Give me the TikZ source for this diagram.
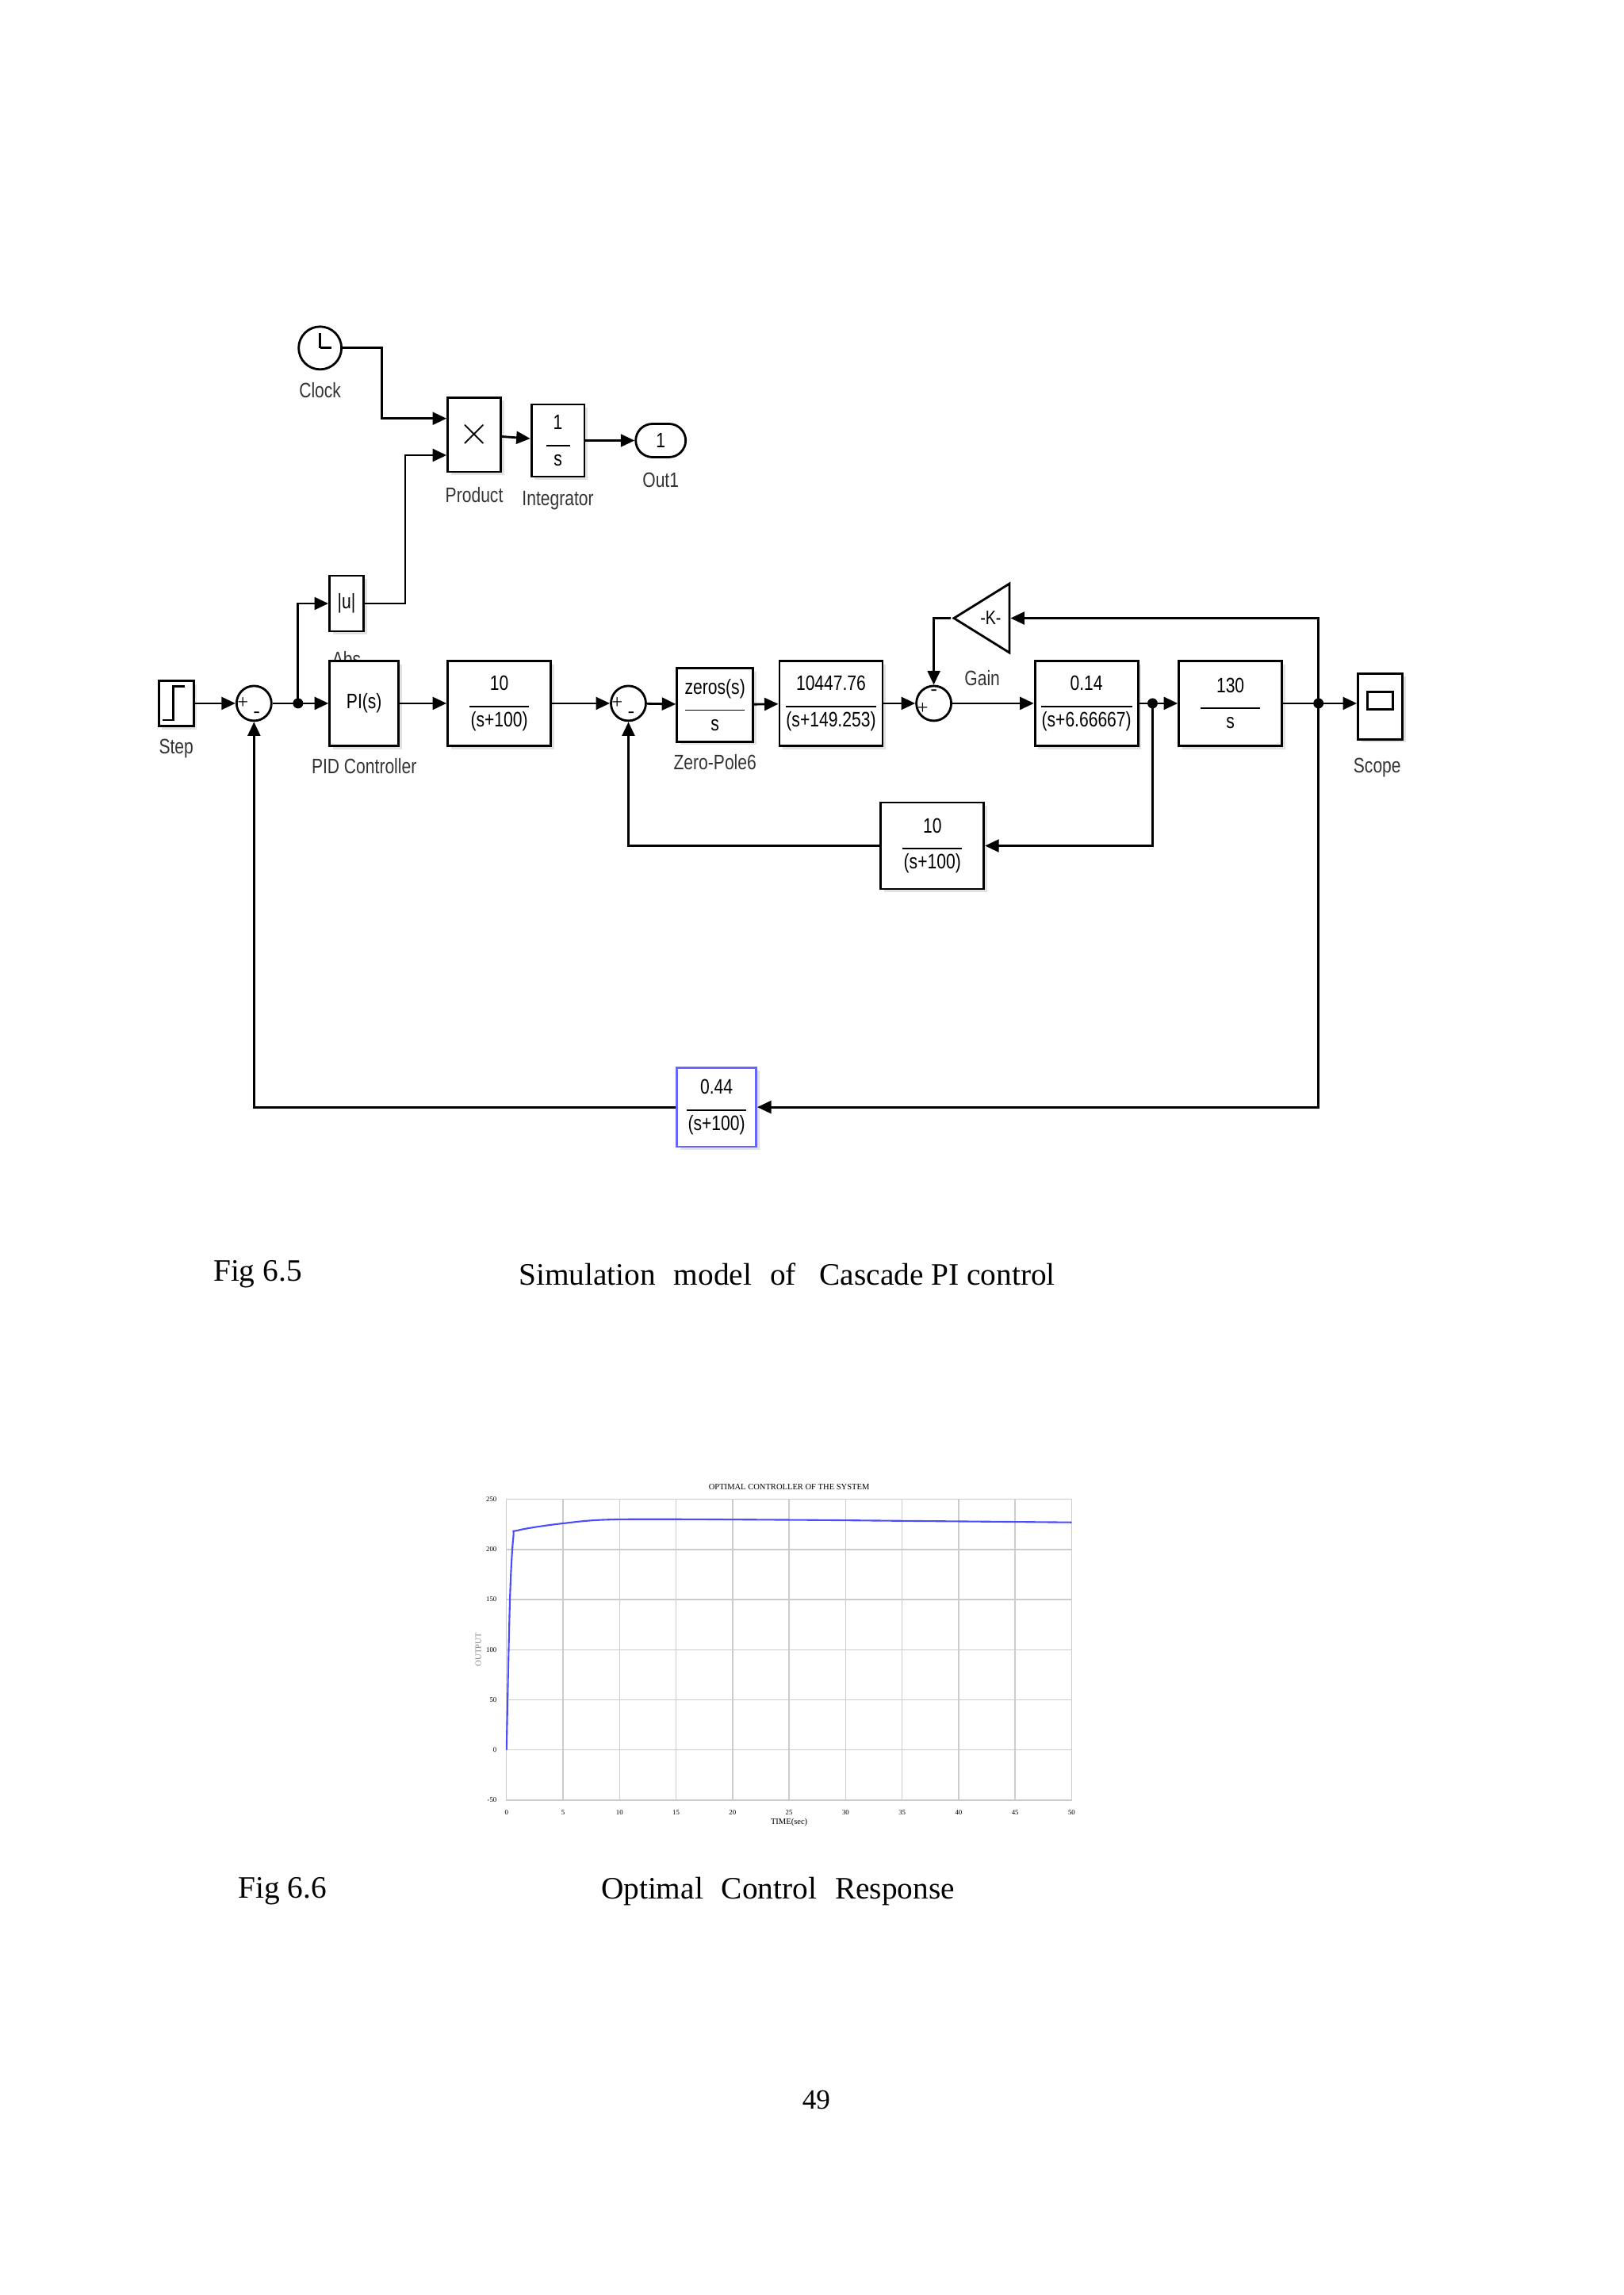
\documentclass[tikz,border=0pt]{standalone}
\usepackage{fontspec}
\setmainfont{Liberation Serif}
\newfontfamily\blkfont{Liberation Sans}[FakeStretch=0.8]
\usetikzlibrary{arrows,arrows.meta,shapes.geometric,shadows}

\newcommand{\tfrac}[3]{#1\\[-2pt]\rule{#3}{0.5pt}\\[-1pt]#2}

\begin{document}
\begin{tikzpicture}[
		x=0.01852cm, y=-0.01852cm,
		blk/.style={draw, thick, fill=white, align=center, inner sep=1pt, font=\blkfont\fontsize{7.5}{8}\selectfont,
			drop shadow={shadow xshift=1.2pt, shadow yshift=-1.2pt, fill=gray!45}},
		sum/.style={circle, draw, thick, fill=white, minimum size=0.44cm, inner sep=0pt},
		lbl/.style={font=\blkfont\fontsize{7.5}{8}\selectfont, gray!40!black},
		dot/.style={circle, fill, inner sep=1.3pt},
		sig/.style={-{Triangle[length=5pt,width=4.5pt]}, thick},
		captxt/.style={font=\fontsize{11.2}{13}\selectfont, anchor=west, inner sep=0pt}]
	\useasboundingbox (0,0) rectangle (1106,1563);
	%% blocks of the upper branch
	\node (clock) at (218,237) [sum, minimum size=0.54cm] {};
	\draw[thick] (clock.center) -- ++(0,-10) (clock.center) -- ++(8,0);
	\node[lbl] at (218,266) {Clock};
	\node (prod) at (323,296) [blk, minimum width=0.67cm, minimum height=0.94cm, font=\Large] {$\times$};
	\node[lbl] at (323,337) {Product};
	\node (integ) at (380,300) [blk, minimum width=0.67cm, minimum height=0.91cm] {\tfrac{1}{s}{0.3cm}};
	\node[lbl] at (380,341) {Integrator};
	\node (out) at (450,300) [draw, thick, rounded corners=6pt, minimum width=0.63cm, minimum height=0.42cm, inner sep=0pt, font=\blkfont\fontsize{7.5}{8}\selectfont] {1};
	\node[lbl] at (450,327) {Out1};
	\node[lbl] at (236,449) {Abs};
	\node (abs) at (236,411) [blk, minimum width=0.43cm, minimum height=0.70cm] {|u|};
	%% forward path
	\node (step) at (120,479) [blk, minimum width=0.44cm, minimum height=0.57cm] {};
	\draw[thick] ([shift={(-5pt,-6pt)}]step.center) -- ++(4pt,0) -- ++(0,12pt) -- ++(4pt,0);
	\node[lbl] at (120,510) {Step};
	\node (sum1) at (173,479) [sum] {};
	\node (pi) at (248,479) [blk, minimum width=0.87cm, minimum height=1.07cm] {PI(s)};
	\node[lbl] at (248,522) {PID Controller};
	\node (tfa) at (340,479) [blk, minimum width=1.30cm, minimum height=1.07cm] {\tfrac{10}{(s+100)}{0.75cm}};
	\node (sum2) at (428,479) [sum] {};
	\node (zp) at (487,480) [blk, minimum width=0.96cm, minimum height=0.93cm] {\tfrac{zeros(s)}{s}{0.75cm}};
	\node[lbl] at (487,519) {Zero-Pole6};
	\node (tfb) at (566,479) [blk, minimum width=1.30cm, minimum height=1.07cm] {\tfrac{10447.76}{(s+149.253)}{1.15cm}};
	\node (sum3) at (636,479) [sum] {};
	\node (tfc) at (740,479) [blk, minimum width=1.30cm, minimum height=1.07cm] {\tfrac{0.14}{(s+6.66667)}{1.15cm}};
	\node (tfd) at (838,479) [blk, minimum width=1.30cm, minimum height=1.07cm] {\tfrac{130}{s}{0.75cm}};
	\node (scope) at (940,481) [blk, minimum width=0.56cm, minimum height=0.83cm] {};
	\draw[thick] ([shift={(-4.5pt,-7pt)}]scope.north) rectangle ([shift={(4.5pt,-1pt)}]scope.center);
	\node[lbl] at (938,523) {Scope};
	\node (gain) at (671,421) [isosceles triangle, shape border rotate=180, draw, thick, fill=white,
		minimum height=0.70cm, minimum width=0.87cm, isosceles triangle stretches, inner sep=0pt,
		font=\blkfont\fontsize{7}{8}\selectfont, xshift=2pt] {-K-};
	\node[lbl] at (669,462) {Gain};
	%% feedback blocks
	\node (tfe) at (635,576) [blk, minimum width=1.30cm, minimum height=1.09cm] {\tfrac{10}{(s+100)}{0.75cm}};
	\node (tff) at (488,754) [blk, draw=blue!60, minimum width=1.0cm, minimum height=1.0cm] {\tfrac{0.44}{(s+100)}{0.75cm}};
	%% signs
	\node[font=\scriptsize] at ([xshift=-4pt]sum1.center) {+};
	\node[font=\scriptsize] at ([yshift=-4pt,xshift=1pt]sum1.center) {-};
	\node[font=\scriptsize] at ([xshift=-4pt]sum2.center) {+};
	\node[font=\scriptsize] at ([yshift=-4pt,xshift=1pt]sum2.center) {-};
	\node[font=\scriptsize] at ([xshift=-4pt,yshift=-2pt]sum3.center) {+};
	\node[font=\scriptsize] at ([yshift=4pt]sum3.center) {-};
	%% branch points
	\coordinate (b1) at (203,479);
	\coordinate (b2) at (785,479);
	\coordinate (b3) at (898,479);
	\node[dot] at (b1) {};
	\node[dot] at (b2) {};
	\node[dot] at (b3) {};
	%% connections
	\draw[sig] (clock.east) -| (260,285) -- (prod.west |- 0,285);
	\draw[sig] (abs.east) -| (276,310) -- (prod.west |- 0,310);
	\draw[sig] (prod) -- (integ);
	\draw[sig] (integ) -- (out);
	\draw[sig] (step) -- (sum1);
	\draw[sig] (sum1) -- (pi);
	\draw[sig] (b1) |- (abs.west);
	\draw[sig] (pi) -- (tfa);
	\draw[sig] (tfa) -- (sum2);
	\draw[sig] (sum2) -- (zp);
	\draw[sig] (zp) -- (tfb);
	\draw[sig] (tfb) -- (sum3);
	\draw[sig] (sum3) -- (tfc);
	\draw[sig] (tfc) -- (tfd);
	\draw[sig] (tfd) -- (tfd -| scope.west);
	\draw[sig] (b3) |- (gain.east);
	\draw[sig] (gain.apex) -| (sum3.north);
	\draw[sig] (b2) |- (tfe.east);
	\draw[sig] (tfe.west) -| (sum2.south);
	\draw[sig] (b3) |- (tff.east);
	\draw[sig] (tff.west) -| (sum1.south);
	%% captions
	\node[captxt] (cap1) at (145,868) {Fig 6.5};
	\node[captxt] (cap1t) at (353,868) {Simulation\,\, model\,\, of\,\,\, Cascade PI control};
	\node[captxt] (cap2) at (162,1288) {Fig 6.6};
	\node[captxt] (cap2t) at (409,1288) {Optimal\,\, Control\,\, Response};
	\node[font=\fontsize{10}{12}\selectfont] (page) at (556,1430) {49};
	%% response plot
	\begin{scope}[shift={(345,1191.8)}, x=0.1426cm, y=0.01265cm, font=\fontsize{2.5}{3}\selectfont]
		\draw[gray!40] (0,-50) rectangle (50,250);
		\foreach \t in {5,10,...,45} \draw[gray!40] (\t,-50) -- (\t,250);
		\foreach \v in {0,50,...,200} \draw[gray!40] (0,\v) -- (50,\v);
		\foreach \t in {0,5,...,50} \node[below] at (\t,-50) {\t};
		\foreach \v in {-50,0,...,250} \node[left] at (0,\v) {\v};
		\draw[blue!70, semithick] plot[smooth] coordinates {(0,0) (0.3,150) (0.6,212) (1,219) (5,226) (10,230) (25,229.5) (35,228.5) (50,227)};
		\node[font=\fontsize{3}{3}\selectfont] at (25,262) {OPTIMAL CONTROLLER OF THE SYSTEM};
		\node[font=\fontsize{3}{3}\selectfont] at (25,-72) {TIME(sec)};
		\node[rotate=90, font=\fontsize{3}{3}\selectfont, gray] at (-2.5,100) {OUTPUT};
	\end{scope}
\end{tikzpicture}
\end{document}
